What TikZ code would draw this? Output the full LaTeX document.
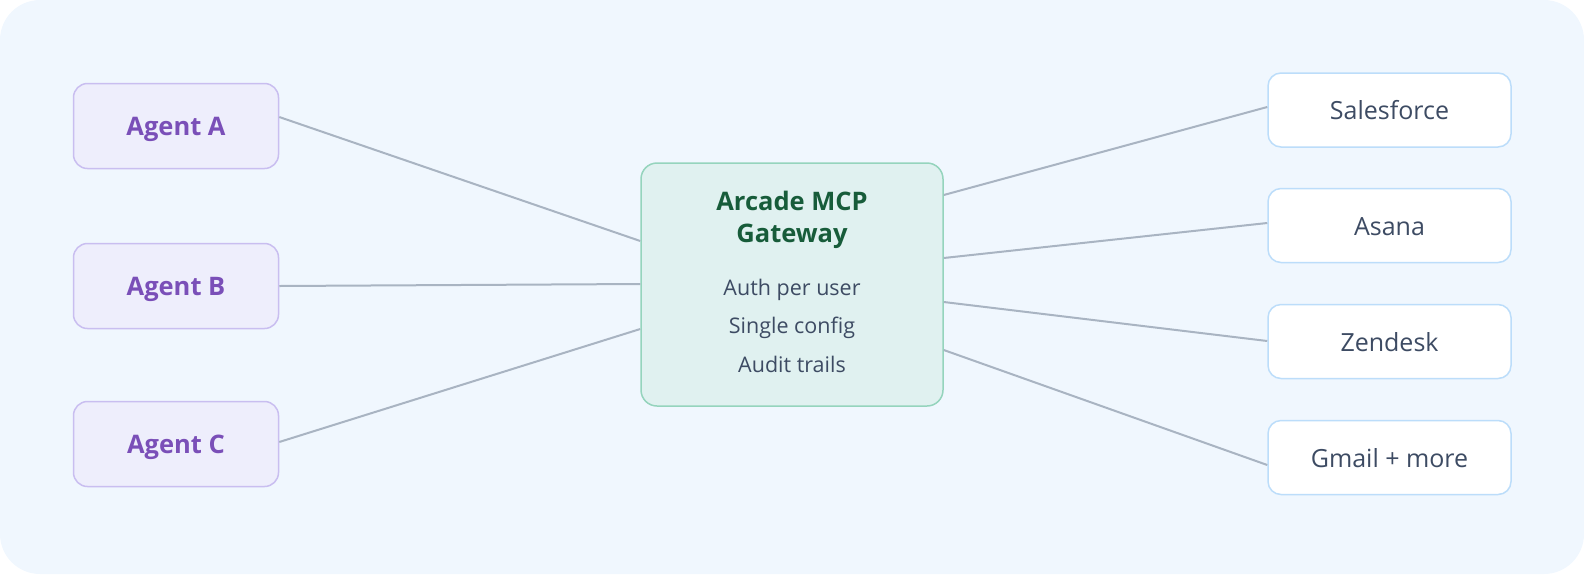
\documentclass[tikz,border=0pt]{standalone}
\usepackage{fontspec}
\setmainfont{Open Sans}
\definecolor{bgc}{HTML}{F0F7FE}
\definecolor{agfill}{HTML}{EEEEFC}
\definecolor{agdraw}{HTML}{C9BEF0}
\definecolor{agtext}{HTML}{7A4FB8}
\definecolor{gwfill}{HTML}{E0F1F0}
\definecolor{gwdraw}{HTML}{95D4BD}
\definecolor{gwtitle}{HTML}{175C3A}
\definecolor{bodytext}{HTML}{3D4B63}
\definecolor{svdraw}{HTML}{BCDDFA}
\definecolor{linec}{HTML}{A9B4C2}
\tikzset{
  agent/.style={draw=agdraw, fill=agfill, line width=1.5pt, rounded corners=14pt,
    minimum width=205pt, minimum height=85pt, inner sep=0pt},
  agtxt/.style={anchor=base, inner sep=0pt, text=agtext, font=\fontsize{25.5}{29}\selectfont\bfseries},
  svc/.style={draw=svdraw, fill=white, line width=1.5pt, rounded corners=13pt,
    minimum width=243pt, minimum height=74pt, inner sep=0pt},
  svtxt/.style={anchor=base, inner sep=0pt, text=bodytext, font=\fontsize{25}{29}\selectfont},
  gwbox/.style={draw=gwdraw, fill=gwfill, line width=1.5pt, rounded corners=16pt,
    minimum width=302pt, minimum height=243pt, inner sep=0pt},
  gwt/.style={anchor=base, text=gwtitle, font=\fontsize{25.5}{30}\selectfont\bfseries, inner sep=0pt},
  gwb/.style={anchor=base, text=bodytext, font=\fontsize{21.5}{25}\selectfont, inner sep=0pt},
  conn/.style={draw=linec, line width=2pt}
}
\begin{document}
\begin{tikzpicture}[x=1pt,y=-1pt]
\fill[bgc, rounded corners=40pt] (0,0) rectangle (1584,574);
\useasboundingbox (0,0) rectangle (1584,574);
% agents
\node[agent] (a) at (176,126) {};
\node[agent] (b) at (176,286) {};
\node[agent] (c) at (176,444) {};
\node[agtxt] (at) at (176,135.5) {Agent A};
\node[agtxt] (bt) at (176,295.5) {Agent B};
\node[agtxt] (ct) at (176,453.5) {Agent C};
% gateway
\node[gwbox] (gw) at (792,284.5) {};
\node[gwt] (t1) at (792,210) {Arcade MCP};
\node[gwt] (t2) at (792,242) {Gateway};
\node[gwb] (l1) at (792,295.3) {Auth per user};
\node[gwb] (l2) at (792,333.5) {Single config};
\node[gwb] (l3) at (792,372.5) {Audit trails};
% services
\node[svc] (s1) at (1389.5,110) {};
\node[svc] (s2) at (1389.5,225.5) {};
\node[svc] (s3) at (1389.5,341.5) {};
\node[svc] (s4) at (1389.5,457.5) {};
\node[svtxt] (s1t) at (1389.5,119.5) {Salesforce};
\node[svtxt] (s2t) at (1389.5,235) {Asana};
\node[svtxt] (s3t) at (1389.5,351) {Zendesk};
\node[svtxt] (s4t) at (1389.5,467) {Gmail + more};
% connectors
\draw[conn] ([yshift=9pt]a.east) -- ([yshift=43.5pt]gw.west);
\draw[conn] (b.east) -- ([yshift=0.5pt]gw.west);
\draw[conn] ([yshift=2pt]c.east) -- ([yshift=-44.5pt]gw.west);
\draw[conn] ([yshift=89.5pt]gw.east) -- ([yshift=3pt]s1.west);
\draw[conn] ([yshift=26.5pt]gw.east) -- ([yshift=2.5pt]s2.west);
\draw[conn] ([yshift=-17.5pt]gw.east) -- ([yshift=0.5pt]s3.west);
\draw[conn] ([yshift=-65.5pt]gw.east) -- ([yshift=-7.5pt]s4.west);
\end{tikzpicture}
\end{document}
